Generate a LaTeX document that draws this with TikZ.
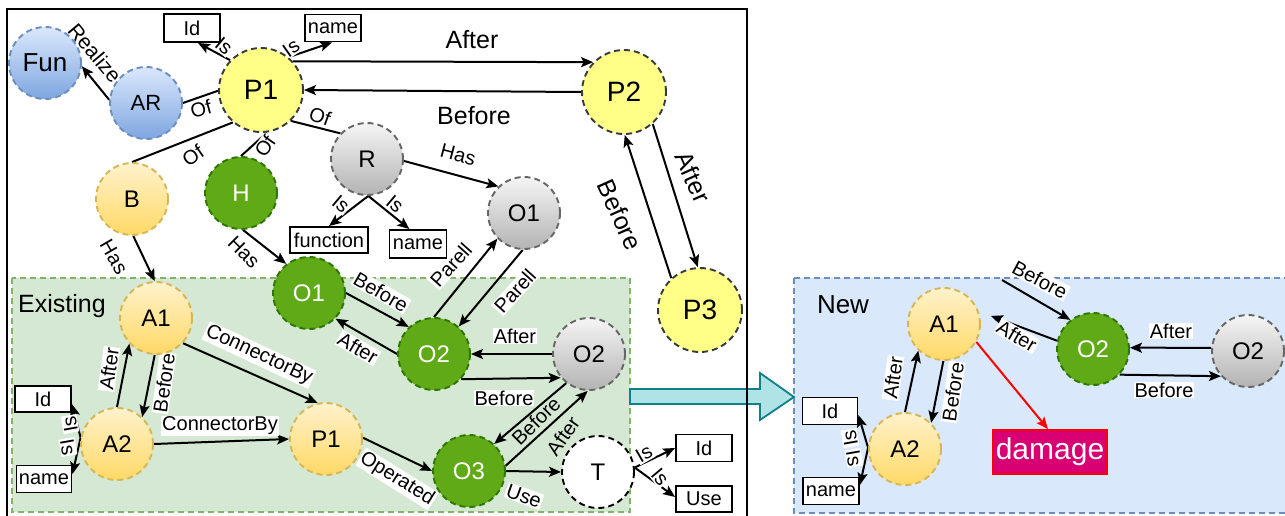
\documentclass[tikz,border=0pt]{standalone}
\usepackage{fontspec}
\setmainfont{Liberation Sans}
\usetikzlibrary{arrows.meta,shapes.geometric}

\definecolor{yelfill}{HTML}{FFFF88}
\definecolor{yeldraw}{HTML}{36393D}
\definecolor{otop}{HTML}{FFF2CC}
\definecolor{obot}{HTML}{FFD966}
\definecolor{odraw}{HTML}{D6B656}
\definecolor{btop}{HTML}{DAE8FC}
\definecolor{bbot}{HTML}{7EA6E0}
\definecolor{bdraw}{HTML}{6C8EBF}
\definecolor{gtop}{HTML}{F5F5F5}
\definecolor{gbot}{HTML}{B3B3B3}
\definecolor{gdraw}{HTML}{666666}
\definecolor{grfill}{HTML}{60A917}
\definecolor{grdraw}{HTML}{2D7600}
\definecolor{exfill}{HTML}{D5E8D4}
\definecolor{exdraw}{HTML}{82B366}
\definecolor{nwfill}{HTML}{DAE8FC}
\definecolor{nwdraw}{HTML}{6C8EBF}
\definecolor{tealfill}{HTML}{B0E3E6}
\definecolor{tealdraw}{HTML}{0E8088}
\definecolor{dmgfill}{HTML}{D80073}

\pgfdeclarelayer{back}
\pgfdeclarelayer{edges}
\pgfdeclarelayer{labels}
\pgfsetlayers{back,edges,labels,main}

\tikzset{
  nd/.style={circle, inner sep=0pt, minimum size=72pt, line width=1.9pt,
    dash pattern=on 6pt off 4pt, font=\fontsize{24}{28}\selectfont},
  bignd/.style={nd, minimum size=84pt, fill=yelfill, draw=yeldraw,
    font=\fontsize{28}{32}\selectfont},
  orng/.style={nd, draw=odraw, top color=otop, bottom color=obot},
  blu/.style={nd, draw=bdraw, top color=btop, bottom color=bbot},
  gry/.style={nd, draw=gdraw, top color=gtop, bottom color=gbot},
  grn/.style={nd, draw=grdraw, fill=grfill, text=white},
  wht/.style={nd, draw=black, fill=white},
  attr/.style={draw, line width=1.9pt, fill=white, inner sep=0pt,
    font=\fontsize{20}{24}\selectfont},
  arr/.style={line width=2pt, -{Stealth[length=12pt,width=10pt,inset=2.5pt]}},
  ln/.style={line width=2pt},
  lbl/.style={fill=white, inner sep=1pt, font=\fontsize{20}{24}\selectfont},
  lblclear/.style={inner sep=1pt, font=\fontsize{20}{24}\selectfont},
  biglbl/.style={lbl, font=\fontsize{25}{30}\selectfont},
  title/.style={font=\fontsize{25}{30}\selectfont},
}

\begin{document}
\begin{tikzpicture}[x=1pt,y=-1pt]
\useasboundingbox (0,0) rectangle (1285,515);

% ---------- panels, transfer arrow and frame ----------
\begin{pgfonlayer}{back}
  \fill[white] (0,0) rectangle (1285,515);
  \draw[exdraw, fill=exfill, line width=1.8pt, dash pattern=on 6pt off 4pt]
    (12,278) rectangle (630,512);
  \draw[nwdraw, fill=nwfill, line width=1.8pt, dash pattern=on 6pt off 4pt]
    (794,278) rectangle (1292,513);
  \draw[tealdraw, fill=tealfill, line width=1.8pt, line join=miter]
    (630,389) -- (760,389) -- (760,373) -- (794,397) -- (760,420)
    -- (760,404) -- (630,404) -- cycle;
  \draw[black, line width=2.4pt] (7,530) -- (7,9) -- (747,9) -- (747,530);
\end{pgfonlayer}

% ---------- process layer ----------
\node[blu, font=\fontsize{26}{30}\selectfont] (Fun) at (45,63) {Fun};
\node[blu, font=\fontsize{22}{26}\selectfont] (AR) at (146,103) {AR};
\node[bignd] (P1) at (261,90) {P1};
\node[bignd] (P2) at (624,92) {P2};
\node[bignd] (P3) at (700,310) {P3};
\node[attr, minimum width=56pt, minimum height=28pt] (IdT) at (192,28) {Id};
\node[attr, minimum width=56pt, minimum height=27pt] (nameT) at (333,28) {name};

% ---------- resource and component layer ----------
\node[gry] (R) at (367,159) {R};
\node[gry] (O1g) at (524,213) {O1};
\node[grn] (H) at (241,193) {H};
\node[orng] (B) at (132,199) {B};
\node[attr, minimum width=78pt, minimum height=26pt] (func) at (329,240) {function};
\node[attr, minimum width=57pt, minimum height=28pt] (nameR) at (418,244) {name};

% ---------- existing model ----------
\node[title] (exist) at (62,306) {Existing};
\node[orng] (A1) at (156,318) {A1};
\node[grn] (O1G) at (309,293) {O1};
\node[grn] (O2G) at (434,354) {O2};
\node[gry] (O2g) at (589,354) {O2};
\node[orng] (A2) at (117,444) {A2};
\node[orng] (P1e) at (326,439) {P1};
\node[grn] (O3) at (469,471) {O3};
\node[wht] (T) at (598,472) {T};
\node[attr, minimum width=56pt, minimum height=26pt] (IdA) at (43,399) {Id};
\node[attr, minimum width=55pt, minimum height=27pt] (nameA) at (44,479) {name};
\node[attr, minimum width=56pt, minimum height=27pt] (IdU) at (704,448) {Id};
\node[attr, minimum width=56pt, minimum height=26pt] (UseB) at (704,499) {Use};

% ---------- new model ----------
\node[title, font=\fontsize{26}{30}\selectfont] (newt) at (843,305) {New};
\node[orng] (A1n) at (944,324) {A1};
\node[orng] (A2n) at (905,449) {A2};
\node[grn] (O2Gn) at (1093,349) {O2};
\node[gry] (O2gn) at (1248,351) {O2};
\node[attr, minimum width=55pt, minimum height=27pt] (Idn) at (830,411) {Id};
\node[attr, minimum width=56pt, minimum height=27pt] (namen) at (831,491) {name};
\node[draw=red, fill=dmgfill, text=white, line width=1.8pt, inner sep=0pt,
  minimum width=114pt, minimum height=44pt, font=\fontsize{30}{34}\selectfont]
  (dmg) at (1050,452) {damage};
\coordinate (bsrc) at (1002,280);

% ---------- connectors ----------
\begin{pgfonlayer}{edges}
  \draw[arr] (P1.42) -- (P2.136);
  \draw[arr] (P2.180) -- (P1.0);
  \draw[arr] (P2.-48) -- (P3.93);
  \draw[arr] (P3.132) -- (P2.-89);
  \draw[arr] (AR.175) -- (Fun.-5);
  \draw[ln] (P1.181) -- (AR.0);
  \draw[ln] (P1.229) -- (B.90);
  \draw[ln] (P1.-82) -- (H.90);
  \draw[ln] (P1.-46) -- (R.136);
  \draw[arr] (P1.136) -- (IdT.-68);
  \draw[arr] (P1.50) -- (nameT.-94);
  \draw[arr] (R.-3) -- (O1g.134);
  \draw[arr] (R.-88) -- (func.north);
  \draw[arr] (R.-88) -- (nameR.120);
  \draw[arr] (B.-88) -- (A1.92);
  \draw[arr] (H.-87) -- (O1G.128);
  \draw[arr] (O1G.0) -- (O2G.133);
  \draw[arr] (O2G.180) -- (O1G.-44);
  \draw[arr] (O2G.90) -- (O1g.-136);
  \draw[arr] (O1g.-92) -- (O2G.48);
  \draw[arr] (O2g.180) -- (O2G.0);
  \draw[arr] (O2G.-43) -- (O2g.-140);
  \draw[arr] (O2g.-128) -- (O3.47);
  \draw[arr] (O3.8) -- (O2g.-92);
  \draw[arr] (O3.0) -- (T.180);
  \draw[arr] (P1e.2) -- (O3.180);
  \draw[arr] (A1.-43) -- (P1e.103);
  \draw[arr] (A2.0) -- (P1e.180);
  \draw[arr] (A2.90) -- (A1.-136);
  \draw[arr] (A1.-92) -- (A2.47);
  \draw[arr] (A2.170) -- (IdA.-10);
  \draw[arr] (A2.170) -- (nameA.10);
  \draw[arr] (T.7) -- (IdU.west);
  \draw[arr] (T.7) -- (UseB.176);
  % new model
  \draw[arr] (A2n.90) -- (A1n.-134);
  \draw[arr] (A1n.-91) -- (A2n.45);
  \draw[arr] (A2n.178) -- (Idn.-8);
  \draw[arr] (A2n.178) -- (namen.12);
  \draw[arr, red] (A1n.-29) -- (dmg.95);
  \draw[arr] (O2gn.175) -- (O2Gn.2);
  \draw[arr] (O2Gn.-44) -- (O2gn.-137);
  \draw[arr] (bsrc) -- (O2Gn.128);
  \draw[arr, shorten >=13pt] (O2Gn.167) -- (A1n.20);
\end{pgfonlayer}

% ---------- connector labels ----------
\begin{pgfonlayer}{labels}
  \node[biglbl] (lAfterA) at (472,40) {After};
  \node[biglbl] (lBeforeA) at (474,116) {Before};
  \node[biglbl, rotate=-66] (lAfterB) at (693,177) {After};
  \node[biglbl, rotate=-66] (lBeforeB) at (620,215) {Before};
  \node[lbl, rotate=-50, font=\fontsize{21}{25}\selectfont] (lRealize) at (95,53) {Realize};
  \node[lbl, rotate=15] (lOfA) at (201,109) {Of};
  \node[lbl, rotate=35] (lOfB) at (193,156) {Of};
  \node[lbl, rotate=55] (lOfC) at (265,146) {Of};
  \node[lbl, rotate=-20] (lOfD) at (320,116) {Of};
  \node[lbl, rotate=-40] (lIsA) at (224,46) {Is};
  \node[lbl, rotate=35] (lIsB) at (291,48) {Is};
  \node[lbl, rotate=-60] (lHasA) at (114,257) {Has};
  \node[lbl, rotate=-45] (lHasB) at (244,252) {Has};
  \node[lbl, rotate=-40] (lIsC) at (341,204) {Is};
  \node[lbl, rotate=-40] (lIsD) at (395,204) {Is};
  \node[lbl, rotate=-15] (lHasC) at (458,155) {Has};
  \node[lbl, rotate=-30] (lBeforeC) at (381,292) {Before};
  \node[lbl, rotate=-30] (lAfterC) at (358,348) {After};
  \node[lbl, rotate=48] (lParA) at (451,265) {Parell};
  \node[lbl, rotate=48] (lParB) at (515,291) {Parell};
  \node[lbl] (lAfterD) at (515,336) {After};
  \node[lbl] (lBeforeD) at (504,398) {Before};
  \node[lblclear, rotate=45] (lBeforeE) at (536,421) {Before};
  \node[lblclear, rotate=55] (lAfterE) at (563,436) {After};
  \node[lbl, rotate=-32] (lOper) at (397,479) {Operated};
  \node[lbl, rotate=-20] (lUse) at (524,496) {Use};
  \node[lbl, rotate=-25] (lConA) at (259,355) {ConnectorBy};
  \node[lbl] (lConB) at (220,426) {ConnectorBy};
  \node[lbl, rotate=82] (lAfterF) at (109,369) {After};
  \node[lbl, rotate=82] (lBeforeF) at (164,383) {Before};
  \node[lbl, rotate=100] (lIsE) at (70,424) {Is};
  \node[lbl, rotate=-80] (lIsF) at (68,447) {Is};
  \node[lbl, rotate=30] (lIsG) at (644,454) {Is};
  \node[lbl, rotate=-50] (lIsH) at (660,477) {Is};
  % new model
  \node[lbl, rotate=-28] (lBeforeG) at (1040,280) {Before};
  \node[lbl, rotate=-30] (lAfterG) at (1017,336) {After};
  \node[lbl] (lAfterH) at (1171,331) {After};
  \node[lbl] (lBeforeH) at (1164,390) {Before};
  \node[lbl, rotate=82] (lAfterI) at (893,378) {After};
  \node[lbl, rotate=82] (lBeforeI) at (953,392) {Before};
  \node[lbl, rotate=100] (lIsI) at (850,438) {Is};
  \node[lbl, rotate=-80] (lIsJ) at (854,458) {Is};
\end{pgfonlayer}
\end{tikzpicture}
\end{document}
